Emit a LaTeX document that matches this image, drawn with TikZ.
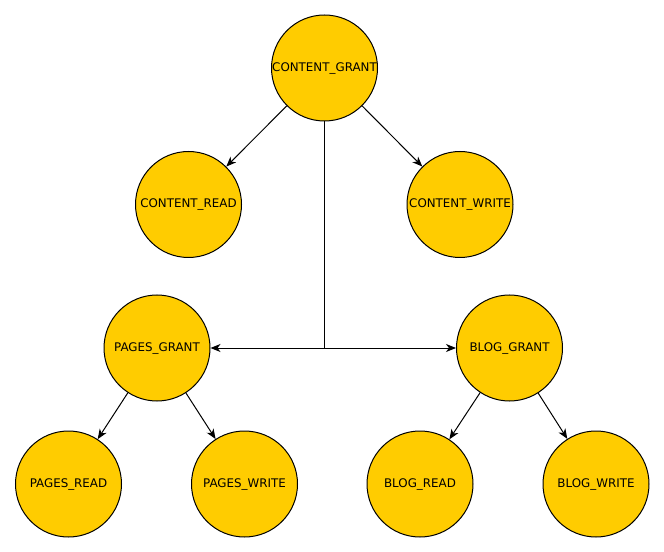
\documentclass[tikz,border=0pt]{standalone}
\usepackage{fontspec}
\setmainfont{DejaVu Sans}
\usetikzlibrary{arrows.meta}
\definecolor{grantyellow}{HTML}{FFCC00}
\tikzset{
  perm/.style={circle,draw=black,fill=grantyellow,line width=0.75pt,minimum size=79.5pt,inner sep=0pt,font=\fontsize{8.9}{10}\selectfont},
  link/.style={line width=0.75pt,-{Stealth[length=7.5pt,width=6pt,inset=2.2pt]}}
}
\begin{document}
\begin{tikzpicture}[x=0.75pt,y=-0.75pt]
\useasboundingbox (0,0) rectangle (664,552);

\node[perm] (cg) at (324.5,68)  {CONTENT\_GRANT};
\node[perm] (cr) at (188.5,204.5) {CONTENT\_READ};
\node[perm] (cw) at (460,204.5) {CONTENT\_WRITE};

\node[perm] (pg) at (157,348) {PAGES\_GRANT};
\node[perm] (bg) at (509.5,348) {BLOG\_GRANT};

\node[perm] (pr) at (68.5,484)  {PAGES\_READ};
\node[perm] (pw) at (244.5,484) {PAGES\_WRITE};
\node[perm] (br) at (420,484) {BLOG\_READ};
\node[perm] (bw) at (596,484) {BLOG\_WRITE};

%content
\draw[link] (cg) -- (cr);
\draw[link] (cg) -- (cw);
\draw[link] (cg.south) |- (pg);
\draw[link] (cg.south) |- (bg);

%pages and blog
\draw[link] (pg) -- (pr);
\draw[link] (pg) -- (pw);
\draw[link] (bg) -- (br);
\draw[link] (bg) -- (bw);
\end{tikzpicture}
\end{document}
